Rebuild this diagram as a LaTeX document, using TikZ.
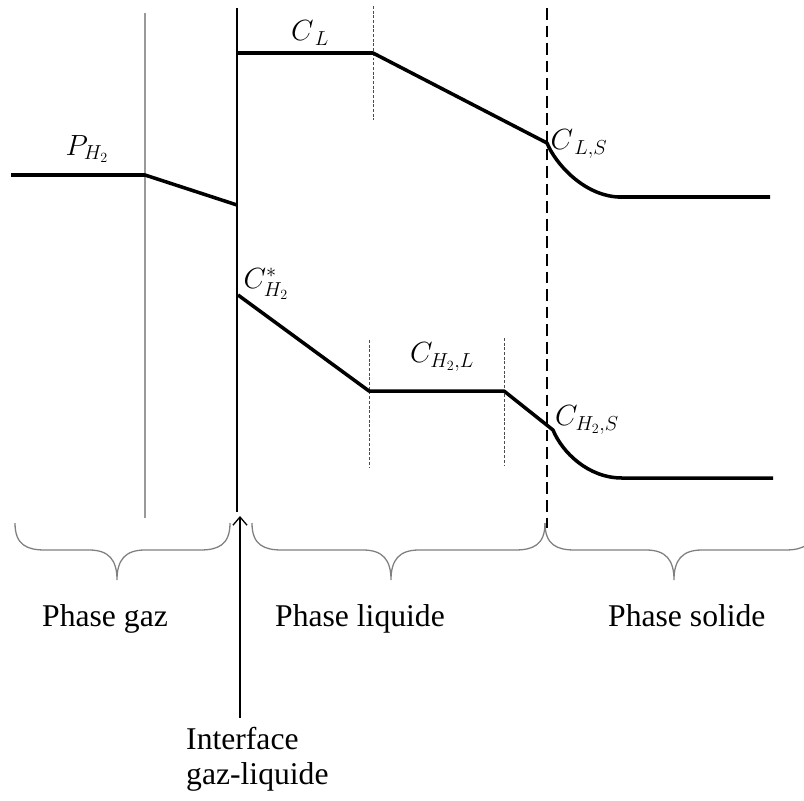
\documentclass[tikz,border=0pt]{standalone}
\usepackage{amsmath}
\usepackage{fontspec}
\setmainfont{Liberation Serif}
\usetikzlibrary{arrows.meta}

\begin{document}
\begin{tikzpicture}[x=0.03cm, y=-0.03cm, >={Straight Barb[length=7pt, width=12pt]},
    profil/.style={line width=3pt, line join=round},
    film/.style={dash pattern=on 2.5pt off 1.5pt, line width=0.7pt, black!70},
    accolade/.style={line width=1.1pt, gray},
    etiq/.style={font=\fontsize{24}{28}\selectfont, inner sep=0pt},
    phase/.style={font=\fontsize{27}{30}\selectfont, inner sep=0pt, anchor=base west}]
    \useasboundingbox (0,0) rectangle (804,800);

    % LIMITES ENTRE LES PHASES
    \coordinate (gazH) at (145,13);  \coordinate (gazB) at (145,518);
    \coordinate (intH) at (237,8);   \coordinate (intB) at (237,512);
    \coordinate (solH) at (547,8);   \coordinate (solB) at (547,528);
    \draw[gray!80, line width=1.6pt] (gazH) -- (gazB);
    \draw[line width=2.4pt] (intH) -- (intB);
    \draw[line width=2.2pt, dash pattern=on 10pt off 5pt] (solH) -- (solB);

    % Films (pointilles fins)
    \draw[film] (373,6) -- (373,120);
    \draw[film] (369,340) -- (369,467);
    \draw[film] (504,338) -- (504,465);

    % PROFIL DE L'HYDROGENE GAZEUX
    \coordinate (p0) at (11,175);
    \coordinate (p1) at (145,175);
    \coordinate (p2) at (237,205);
    \draw[profil] (p0) -- (p1) -- (p2);

    % PROFIL DU REACTIF LIQUIDE
    \coordinate (l0) at (237,53);
    \coordinate (l1) at (373,53);
    \coordinate (l2) at (547,143);
    \coordinate (l3) at (618,197);
    \coordinate (l4) at (770,197);
    \draw[profil] (l0) -- (l1) -- (l2) .. controls (555,163) and (583,195) .. (l3) -- (l4);

    % PROFIL DE L'HYDROGENE DISSOUS
    \coordinate (h0) at (238,295);
    \coordinate (h1) at (369,391);
    \coordinate (h2) at (504,391);
    \coordinate (h3) at (553,430);
    \coordinate (h4) at (622,478);
    \coordinate (h5) at (773,478);
    \draw[profil] (h0) -- (h1) -- (h2) -- (h3) .. controls (562,452) and (588,478) .. (h4) -- (h5);

    % Concentrations
    \node[etiq] (pH2)  at (87,149)  {$P_{H_2}$};
    \node[etiq] (cL)   at (310,33)  {$C_{\,L}$};
    \node[etiq] (cLS)  at (579,144) {$C_{\,L,S}$};
    \node[etiq] (cEt)  at (266,284) {$C^{*}_{H_2}$};
    \node[etiq] (cH2L) at (442,357) {$C_{H_2,L}$};
    \node[etiq] (cH2S) at (587,420) {$C_{H_2,S}$};

    % ACCOLADES DES PHASES
    \foreach \a/\m/\b/\n in {15/117/230/gaz, 252/391/545/liq, 545/674/815/sol} {
        \coordinate (acc\n) at (\m,580);
        \draw[accolade] (\a,523) .. controls (\a,545) and (\a+12,550) .. (\a+30,550)
            -- (\m-28,550) .. controls (\m-8,550) and (\m,560) .. (acc\n)
            .. controls (\m,560) and (\m+8,550) .. (\m+28,550)
            -- (\b-30,550) .. controls (\b-12,550) and (\b,545) .. (\b,523);
    }
    \node[phase] (phGaz) at (42,626)  {Phase gaz};
    \node[phase] (phLiq) at (275,626) {Phase liquide};
    \node[phase] (phSol) at (608,626) {Phase solide};

    % INTERFACE
    \node[phase, align=left, anchor=north west] (interf) at (186,727) {Interface\\gaz-liquide};
    \coordinate (fleche) at (240,516);
    \draw[->, line width=1.1pt, shorten <=8pt] (fleche |- interf.north) -- (fleche);

\end{tikzpicture}
\end{document}
